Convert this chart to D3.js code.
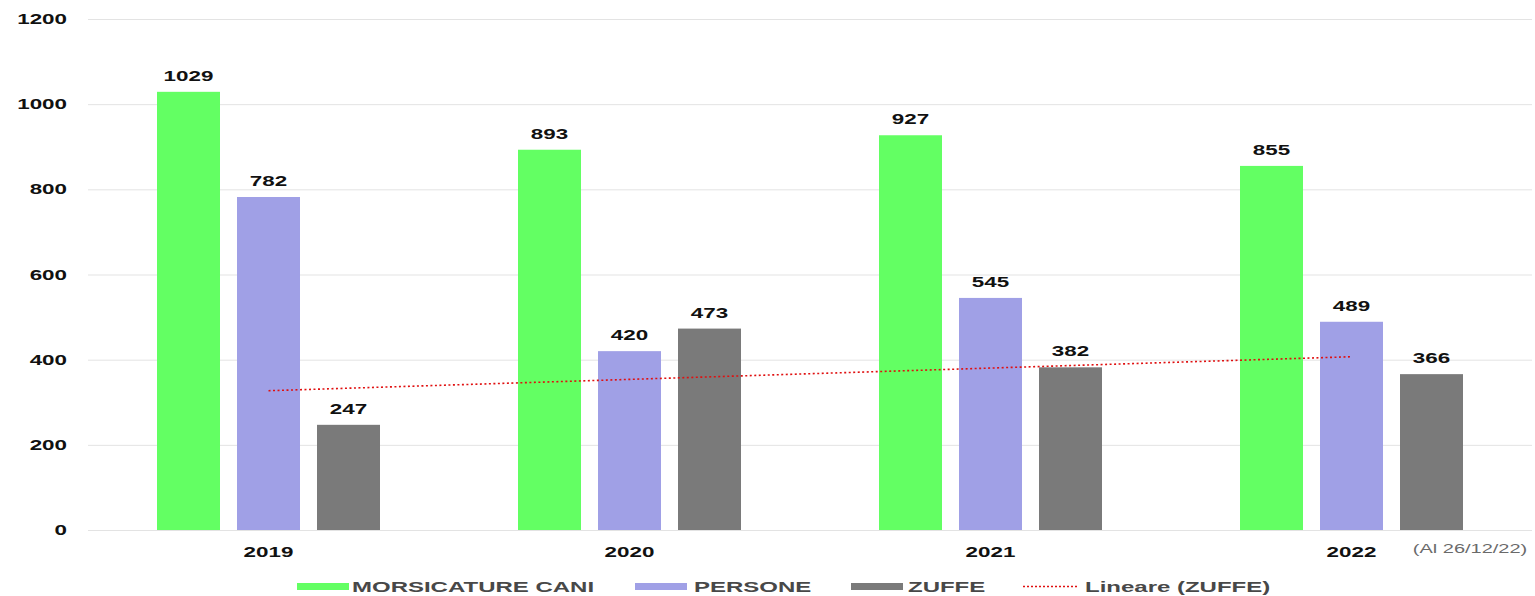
<!DOCTYPE html>
<html>
<head>
<meta charset="utf-8">
<script src="https://cdn.jsdelivr.net/npm/d3@7/dist/d3.min.js"></script>
<style>
  html, body { margin: 0; padding: 0; background: #fff; }
  svg { display: block; font-family: "Liberation Sans", Arial, sans-serif; }
</style>
</head>
<body>
<svg id="chart" width="1535" height="596"></svg>
<script>
// Yearly counts
const years = ["2019", "2020", "2021", "2022"];
const seriesNames = ["MORSICATURE CANI", "PERSONE", "ZUFFE"];
const morsicatureCani = [1029, 893, 927, 855];
const persone = [782, 420, 545, 489];
const zuffe = [247, 473, 382, 366];
const yTicks = [0, 200, 400, 600, 800, 1000, 1200];
const trendLabel = "Lineare (ZUFFE)";
const dateNote = "(Al 26/12/22)";

const seriesValues = [morsicatureCani, persone, zuffe];
const colors = ["#63ff63", "#a0a0e6", "#7a7a7a"];

const svg = d3.select("#chart");
const plotLeft = 88, plotRight = 1532, plotTop = 19, plotBottom = 530;
const SX = 1.6; // horizontal stretch of all lettering

const x0 = d3.scaleBand().domain(years).range([plotLeft, plotRight]).paddingInner(0).paddingOuter(0);
const barW = 63, barGap = 17;
const groupW = barW * 3 + barGap * 2;
const x1 = d3.scaleBand().domain(seriesNames)
  .range([(x0.bandwidth() - groupW) / 2, (x0.bandwidth() + groupW) / 2])
  .paddingInner(barGap / (barW + barGap)).paddingOuter(0);
const y = d3.scaleLinear().domain([0, 1200]).range([plotBottom, plotTop]);

// stretched text helper
function label(g, x, yy, text, opts) {
  return g.append("text")
    .attr("transform", `translate(${x},${yy}) scale(${opts.sx || SX},1)`)
    .attr("text-anchor", opts.anchor || "middle")
    .attr("font-size", opts.size || 14)
    .attr("font-weight", opts.weight || "bold")
    .attr("fill", opts.fill || "#111")
    .text(text);
}

// grid lines
const grid = d3.axisLeft(y).tickValues(yTicks).tickSize(-(1532 - plotLeft)).tickFormat("");
svg.append("g").attr("transform", `translate(${plotLeft},0)`).call(grid)
  .call(g => g.select(".domain").remove())
  .call(g => g.selectAll("line").attr("stroke", "#e3e3e3").attr("stroke-width", 1));

// y tick labels
const yl = svg.append("g");
yTicks.forEach(v => label(yl, 67, y(v) + 5, String(v), { anchor: "end", size: 14 }));

// bars
const groups = svg.append("g").selectAll("g").data(years).join("g")
  .attr("transform", d => `translate(${x0(d)},0)`);
seriesNames.forEach((s, si) => {
  groups.append("rect")
    .attr("x", x1(s))
    .attr("width", x1.bandwidth())
    .attr("y", (d, i) => y(seriesValues[si][i]))
    .attr("height", (d, i) => y(0) - y(seriesValues[si][i]))
    .attr("fill", colors[si]);
});

// value labels
const vl = svg.append("g");
years.forEach((yr, i) => {
  seriesNames.forEach((s, si) => {
    const v = seriesValues[si][i];
    label(vl, x0(yr) + x1(s) + x1.bandwidth() / 2, y(v) - 11, String(v), { size: 14 });
  });
});

// linear trend of ZUFFE (least squares over year index)
const n = zuffe.length;
const xs = d3.range(1, n + 1);
const mx = d3.mean(xs), my = d3.mean(zuffe);
const slope = d3.sum(xs, (xv, i) => (xv - mx) * (zuffe[i] - my)) / d3.sum(xs, xv => (xv - mx) ** 2);
const icpt = my - slope * mx;
const trendPts = [[years[0], icpt + slope * 1], [years[n - 1], icpt + slope * n]];
svg.append("path")
  .attr("d", d3.line().x(d => x0(d[0]) + x0.bandwidth() / 2).y(d => y(d[1]))(trendPts))
  .attr("stroke", "#e01010").attr("stroke-width", 1.6)
  .attr("stroke-dasharray", "2,2.5").attr("fill", "none");

// x axis labels
const xl = svg.append("g");
years.forEach(yr => label(xl, x0(yr) + x0.bandwidth() / 2, 557, yr, { size: 14 }));
label(xl, 1470, 553, dateNote, { size: 12.5, weight: "normal", fill: "#6a6a6a" });

// legend
const lg = svg.append("g");
const legendItems = [
  { name: seriesNames[0], color: colors[0], sx: 297, tx: 352 },
  { name: seriesNames[1], color: colors[1], sx: 635, tx: 694 },
  { name: seriesNames[2], color: colors[2], sx: 851, tx: 908 },
];
legendItems.forEach(it => {
  lg.append("rect").attr("x", it.sx).attr("y", 583).attr("width", 52).attr("height", 7).attr("fill", it.color);
  label(lg, it.tx, 592, it.name, { anchor: "start", size: 15, fill: "#484848" });
});
lg.append("line").attr("x1", 1023).attr("x2", 1077).attr("y1", 586.5).attr("y2", 586.5)
  .attr("stroke", "#e01010").attr("stroke-width", 1.6).attr("stroke-dasharray", "2,2");
label(lg, 1085, 592, trendLabel, { anchor: "start", size: 15, fill: "#484848" });
</script>
</body>
</html>
